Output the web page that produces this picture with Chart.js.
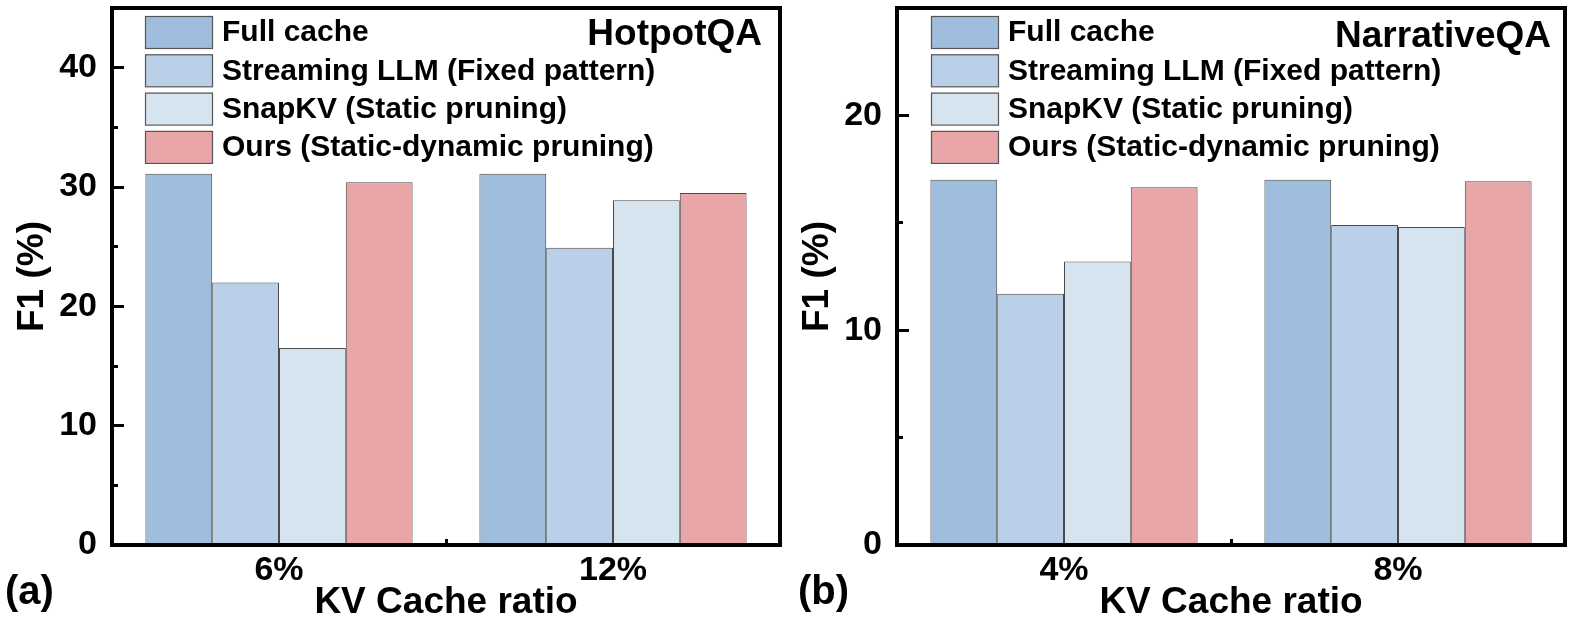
<!DOCTYPE html>
<html>
<head>
<meta charset="utf-8">
<script src="https://cdn.jsdelivr.net/npm/chart.js@4.4.0/dist/chart.umd.min.js"></script>
<style>
  html, body { margin: 0; padding: 0; background: #fff; }
  #wrap { position: relative; width: 1578px; height: 627px; }
  canvas { position: absolute; top: 0; }
  #hotpot { left: 0; }
  #narrative { left: 785px; }
</style>
</head>
<body>
<div id="wrap">
  <canvas id="hotpot" width="785" height="627"></canvas>
  <canvas id="narrative" width="793" height="627"></canvas>
</div>
<script>
var seriesNames = [
    'Full cache',
    'Streaming LLM (Fixed pattern)',
    'SnapKV (Static pruning)',
    'Ours (Static-dynamic pruning)'
];
var seriesColors = ['#9fbedd', '#bad0e8', '#d6e4f0', '#e9a6a8'];

// (a) HotpotQA
var hotpotRatios = ['6%', '12%'];
var hotpotFull = [31.1, 31.1];
var hotpotStreaming = [22.0, 24.9];
var hotpotSnap = [16.5, 28.9];
var hotpotOurs = [30.4, 29.5];
var hotpotTicks = [0, 10, 20, 30, 40];
var hotpotMinorTicks = [5, 15, 25, 35];

// (b) NarrativeQA
var narrativeRatios = ['4%', '8%'];
var narrativeFull = [17.0, 17.0];
var narrativeStreaming = [11.7, 14.9];
var narrativeSnap = [13.2, 14.8];
var narrativeOurs = [16.65, 16.93];
var narrativeTicks = [0, 10, 20];
var narrativeMinorTicks = [5, 15];

var fontStack = '"Liberation Sans", Arial, sans-serif';
Chart.defaults.font.family = fontStack;
Chart.defaults.font.weight = 'bold';
Chart.defaults.color = '#000';

// frame, in-plot legend, dataset title and panel letter
var panelDecor = {
    id: 'panelDecor',
    afterDatasetsDraw: function(chart, args, opts) {
        var ctx = chart.ctx;
        var area = chart.chartArea;
        ctx.save();

        ctx.lineWidth = 4;
        ctx.strokeStyle = '#000';
        ctx.strokeRect(area.left, area.top, area.right - area.left, area.bottom - area.top);

        ctx.font = 'bold 30px ' + fontStack;
        ctx.textBaseline = 'middle';
        ctx.textAlign = 'left';
        chart.data.datasets.forEach(function(ds, i) {
            var bx = area.left + opts.legendX;
            var by = area.top + 8 + i * 38.3;
            ctx.fillStyle = ds.backgroundColor;
            ctx.fillRect(bx, by, 67, 32);
            ctx.lineWidth = 1.2;
            ctx.strokeStyle = '#555';
            ctx.strokeRect(bx + 0.5, by + 0.5, 67, 32);
            ctx.fillStyle = '#000';
            ctx.fillText(ds.label, bx + 77, by + 17);
        });

        ctx.font = 'bold 37px ' + fontStack;
        ctx.textAlign = 'right';
        ctx.textBaseline = 'alphabetic';
        ctx.fillText(opts.title, area.right - opts.titleRight, area.top + opts.titleBaseline);

        ctx.font = 'bold 40px ' + fontStack;
        ctx.textAlign = 'left';
        ctx.fillText(opts.label, opts.labelX, 604);
        ctx.restore();
    }
};

function noPadding(s) {
    s.paddingTop = 0;
    s.paddingBottom = 0;
    s.paddingLeft = 0;
    s.paddingRight = 0;
}

function buildPanel(canvasId, ratios, series, ticks, minorTicks, yMax, decor, padRight) {
    var ctx = document.getElementById(canvasId).getContext('2d');
    return new Chart(ctx, {
        type: 'bar',
        data: {
            labels: ratios,
            datasets: series.map(function(values, i) {
                return {
                    label: seriesNames[i],
                    data: values,
                    backgroundColor: seriesColors[i],
                    borderColor: '#4a4a4a',
                    borderWidth: 1,
                    borderSkipped: 'start',
                    categoryPercentage: 0.8,
                    barPercentage: 1.0
                };
            })
        },
        options: {
            responsive: false,
            devicePixelRatio: 1,
            animation: false,
            layout: { padding: { left: 0, top: 8, right: padRight, bottom: 0 } },
            plugins: {
                legend: { display: false },
                tooltip: { enabled: false },
                panelDecor: decor
            },
            scales: {
                x: {
                    weight: 1,
                    z: 1,
                    offset: true,
                    border: { display: false },
                    grid: { offset: false, drawOnChartArea: false, tickLength: -12, tickWidth: 3, tickColor: '#000' },
                    ticks: { font: { size: 34, weight: 'bold' }, padding: 17, color: '#000' },
                    title: { display: true, text: 'KV Cache ratio', font: { size: 37, weight: 'bold' }, padding: { top: 0, bottom: 2 }, color: '#000' },
                    afterFit: function(s) { s.height = 82; noPadding(s); }
                },
                xMinor: {
                    type: 'category',
                    position: 'bottom',
                    weight: 0,
                    z: 1,
                    offset: true,
                    border: { display: false },
                    grid: { offset: true, drawOnChartArea: false, tickLength: -6, tickWidth: 3, tickColor: '#000' },
                    ticks: { display: false },
                    afterFit: function(s) { s.height = 0; noPadding(s); }
                },
                y: {
                    weight: 1,
                    z: 1,
                    min: 0,
                    max: yMax,
                    border: { display: false },
                    grid: { drawOnChartArea: false, tickLength: -12, tickWidth: 3, tickColor: '#000' },
                    ticks: { font: { size: 34, weight: 'bold' }, padding: 27, color: '#000' },
                    afterBuildTicks: function(s) { s.ticks = ticks.map(function(v) { return { value: v }; }); },
                    title: { display: true, text: 'F1 (%)', font: { size: 37, weight: 'bold' }, padding: { top: 11, bottom: 0 }, color: '#000' },
                    afterFit: function(s) { s.width = 112; noPadding(s); }
                },
                yMinor: {
                    type: 'linear',
                    position: 'left',
                    weight: 0,
                    z: 1,
                    min: 0,
                    max: yMax,
                    border: { display: false },
                    grid: { drawOnChartArea: false, tickLength: -6, tickWidth: 3, tickColor: '#000' },
                    ticks: { display: false },
                    afterBuildTicks: function(s) { s.ticks = minorTicks.map(function(v) { return { value: v }; }); },
                    afterFit: function(s) { s.width = 0; noPadding(s); }
                }
            }
        },
        plugins: [panelDecor]
    });
}

buildPanel('hotpot', hotpotRatios,
    [hotpotFull, hotpotStreaming, hotpotSnap, hotpotOurs],
    hotpotTicks, hotpotMinorTicks, 45,
    { title: 'HotpotQA', titleRight: 18, titleBaseline: 37, label: '(a)', labelX: 5, legendX: 33 }, 5);

buildPanel('narrative', narrativeRatios,
    [narrativeFull, narrativeStreaming, narrativeSnap, narrativeOurs],
    narrativeTicks, narrativeMinorTicks, 25,
    { title: 'NarrativeQA', titleRight: 14, titleBaseline: 39, label: '(b)', labelX: 13, legendX: 34 }, 13);
</script>
</body>
</html>
